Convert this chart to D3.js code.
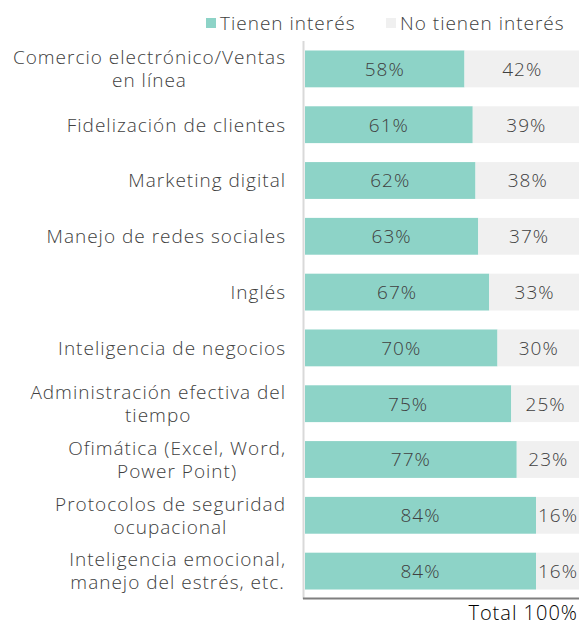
<!DOCTYPE html>
<html>
<head>
<meta charset="utf-8">
<script src="https://cdn.jsdelivr.net/npm/d3@7"></script>
<style>
  body { margin: 0; background: #fff; }
  svg { display: block; }
  text { font-family: 'Open Sans', sans-serif; font-weight: 300; fill: #404040; letter-spacing: 1px; }
</style>
</head>
<body>
<svg id="chart" width="579" height="627"></svg>
<script>
// categorias (saltos de linea como en el original)
const categories = [
  'Comercio electrónico/Ventas\nen línea',
  'Fidelización de clientes',
  'Marketing digital',
  'Manejo de redes sociales',
  'Inglés',
  'Inteligencia de negocios',
  'Administración efectiva del\ntiempo',
  'Ofimática (Excel, Word,\nPower Point)',
  'Protocolos de seguridad\nocupacional',
  'Inteligencia emocional,\nmanejo del estrés, etc.'
]
const tienen = [58, 61, 62, 63, 67, 70, 75, 77, 84, 84]
const noTienen = [42, 39, 38, 37, 33, 30, 25, 23, 16, 16]
const seriesNames = ['Tienen interés', 'No tienen interés']
const colors = ['#8dd3c7', '#f0f0f0']

const svg = d3.select('#chart')
const fontSize = 19

const x = d3.scaleLinear().domain([0, 100]).range([305, 580])
const y = d3.scaleBand().domain(categories).range([41, 599]).paddingInner(0.34).paddingOuter(0.17)

const rows = categories.map((c, i) => ({ cat: c, vals: [tienen[i], noTienen[i]] }))

// barras
const g = svg.append('g')
rows.forEach(r => {
  let acc = 0
  r.vals.forEach((v, k) => {
    g.append('rect')
      .attr('x', x(acc))
      .attr('y', y(r.cat))
      .attr('width', x(acc + v) - x(acc))
      .attr('height', y.bandwidth())
      .attr('fill', colors[k])
    g.append('text')
      .attr('x', (x(acc) + x(acc + v)) / 2)
      .attr('y', y(r.cat) + y.bandwidth() / 2)
      .attr('dy', '0.36em')
      .attr('text-anchor', 'middle')
      .style('font-size', fontSize + 'px')
      .text(v + '%')
    acc += v
  })
})

// eje vertical
svg.append('line')
  .attr('x1', 303.5).attr('x2', 303.5)
  .attr('y1', 41).attr('y2', 599)
  .attr('stroke', '#d9d9d9').attr('stroke-width', 2)

// linea inferior
svg.append('line')
  .attr('x1', 303).attr('x2', 579)
  .attr('y1', 598.5).attr('y2', 598.5)
  .attr('stroke', '#7f7f7f').attr('stroke-width', 2)

// etiquetas de categorias
const labelRight = 286
rows.forEach(r => {
  const lines = r.cat.split('\n')
  const t = svg.append('text')
    .attr('text-anchor', 'middle')
    .style('font-size', fontSize + 'px')
  lines.forEach(l => t.append('tspan').text(l))
  const widths = t.selectAll('tspan').nodes().map(n => n.getComputedTextLength())
  const maxW = d3.max(widths)
  const cx = labelRight - maxW / 2
  const cy = y(r.cat) + y.bandwidth() / 2
  const lh = 23
  t.selectAll('tspan')
    .attr('x', cx)
    .attr('y', (d, i) => cy + (i - (lines.length - 1) / 2) * lh)
    .attr('dy', '0.36em')
})

// leyenda
const legX = [206, 386]
seriesNames.forEach((s, i) => {
  svg.append('rect')
    .attr('x', legX[i]).attr('y', 18)
    .attr('width', 10).attr('height', 10)
    .attr('fill', colors[i])
  svg.append('text')
    .attr('x', legX[i] + 14).attr('y', 23)
    .attr('dy', '0.36em')
    .style('font-size', fontSize + 'px')
    .text(s)
})

// total
svg.append('text')
  .attr('x', 578).attr('y', 620)
  .attr('text-anchor', 'end')
  .style('font-size', '20px')
  .style('fill', '#000')
  .text('Total 100%')
</script>
</body>
</html>
